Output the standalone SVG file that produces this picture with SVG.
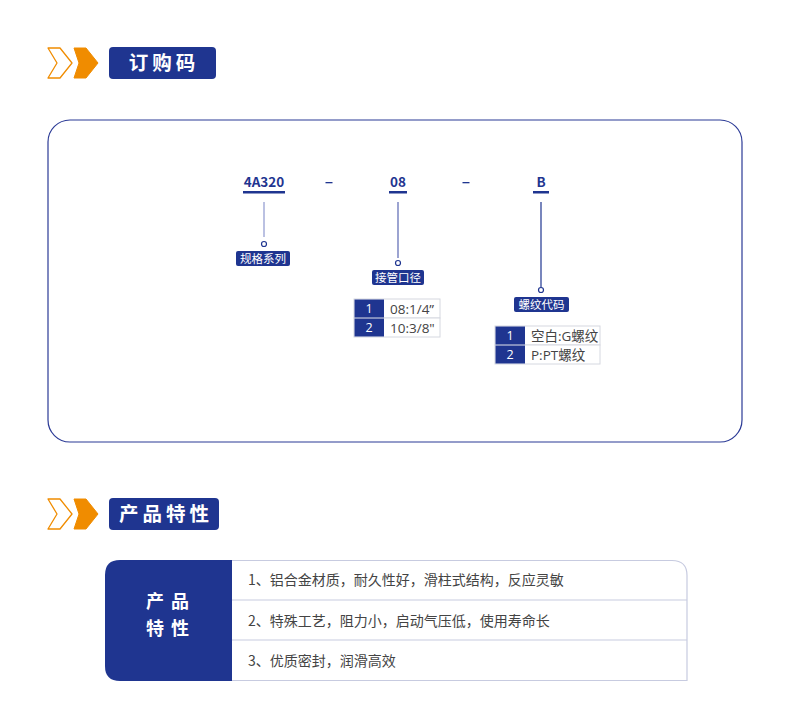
<svg xmlns="http://www.w3.org/2000/svg" width="790" height="724" viewBox="0 0 790 724">
<defs>
<style>
text{font-family:"Noto Sans CJK SC","Noto Sans",sans-serif}
.hd{fill:#fff;font-size:19.5px;font-weight:700;letter-spacing:4px}
.code{fill:#1f3590;font-size:13.5px;font-weight:700;text-anchor:middle}
.lbl{fill:#fff;font-size:11.5px;text-anchor:middle}
.badge{fill:#1f3590}
.num{fill:#1f3590}
.cell{fill:#fff;stroke:#d5d8e0;stroke-width:1}
.nt{fill:#fff;font-size:12.5px;text-anchor:middle;font-family:"Open Sans","Noto Sans CJK SC",sans-serif}
.ct{fill:#444;font-size:13.5px;font-family:"Open Sans","Noto Sans CJK SC",sans-serif}
.li{fill:#444;font-size:14px}
.dot{fill:#fff;stroke:#1f3590;stroke-width:1.2}
.fh{fill:#fff;font-size:18px;font-weight:700;letter-spacing:7px;text-anchor:middle}
</style>
</defs>
<rect width="790" height="724" fill="#fff"/>

<g id="header1">
<path d="M48,48 L60,48 L72,63 L60,78 L48,78 L57,63 Z" fill="none" stroke="#f08c00" stroke-width="1.3" stroke-linejoin="round"/>
<path d="M74,48 L86,48 L98,63 L86,78 L74,78 L79,63 Z" fill="#f08c00" stroke="#f08c00" stroke-width="1" stroke-linejoin="round"/>
<rect x="109" y="47" width="107" height="32" rx="4" class="badge"/>
<text x="164" y="70" class="hd" text-anchor="middle">订购码</text>
</g>

<g id="order-box">
<rect x="48" y="120" width="694" height="322" rx="22" fill="#fff" stroke="#2b3a96" stroke-width="1.2"/>
</g>

<g id="code-4A320">
<text x="264" y="187" class="code">4A320</text>
<rect x="243" y="191" width="42" height="2.5" fill="#1f3590"/>
</g>
<rect x="325.5" y="182" width="7" height="1.3" fill="#1f3590"/>
<g id="code-08">
<text x="398" y="187" class="code">08</text>
<rect x="389" y="191" width="18" height="2.5" fill="#1f3590"/>
</g>
<rect x="462.5" y="182" width="7" height="1.3" fill="#1f3590"/>
<g id="code-B">
<text x="541" y="187" class="code">B</text>
<rect x="533" y="191" width="16" height="2.5" fill="#1f3590"/>
</g>

<g id="connectors">
<line x1="264" y1="202" x2="264" y2="237" stroke="#8e98cf" stroke-width="1.2"/>
<line x1="398" y1="202" x2="398" y2="258" stroke="#5a67b3" stroke-width="1.2"/>
<line x1="541" y1="202" x2="541" y2="287" stroke="#1f3590" stroke-width="1.2"/>
<circle cx="264" cy="244" r="2.5" class="dot"/>
<circle cx="398" cy="263" r="2.5" class="dot"/>
<circle cx="541" cy="290" r="2.5" class="dot"/>
</g>

<g id="label-series">
<rect x="236" y="251" width="54" height="15" rx="2" class="badge"/>
<text x="263" y="262.5" class="lbl">规格系列</text>
</g>

<g id="label-port">
<rect x="372" y="270" width="52" height="15" rx="2" class="badge"/>
<text x="398" y="281.5" class="lbl">接管口径</text>
</g>

<g id="label-thread">
<rect x="514" y="297" width="55" height="15" rx="2" class="badge"/>
<text x="541.5" y="308.5" class="lbl">螺纹代码</text>
</g>

<g id="table-port">
<rect x="354" y="299" width="86" height="19" class="cell"/>
<rect x="354" y="318" width="86" height="19" class="cell"/>
<rect x="354.5" y="299.5" width="29.5" height="18" class="num"/>
<rect x="354.5" y="318.5" width="29.5" height="18" class="num"/>
<text x="369" y="313" class="nt">1</text>
<text x="369" y="332" class="nt">2</text>
<text x="390" y="313.5" class="ct">08:1/4”</text>
<text x="390" y="332.5" class="ct">10:3/8"</text>
</g>

<g id="table-thread">
<rect x="495" y="326" width="105" height="19" class="cell"/>
<rect x="495" y="345" width="105" height="19" class="cell"/>
<rect x="495.5" y="326.5" width="29.5" height="18" class="num"/>
<rect x="495.5" y="345.5" width="29.5" height="18" class="num"/>
<text x="510" y="340" class="nt">1</text>
<text x="510" y="359" class="nt">2</text>
<text x="531" y="340.5" class="ct">空白:G螺纹</text>
<text x="531" y="359.5" class="ct">P:PT螺纹</text>
</g>

<g id="header2">
<path d="M48,499 L60,499 L72,514 L60,529 L48,529 L57,514 Z" fill="none" stroke="#f08c00" stroke-width="1.3" stroke-linejoin="round"/>
<path d="M74,499 L86,499 L98,514 L86,529 L74,529 L79,514 Z" fill="#f08c00" stroke="#f08c00" stroke-width="1" stroke-linejoin="round"/>
<rect x="109" y="498" width="110" height="32" rx="4" class="badge"/>
<text x="166" y="521" class="hd" text-anchor="middle">产品特性</text>
</g>

<g id="features">
<path d="M232,560.5 L672,560.5 Q687,560.5 687,575.5 L687,680.5 L232,680.5" fill="#fff" stroke="#c7cbe0" stroke-width="1.2"/>
<line x1="232" y1="600" x2="687" y2="600" stroke="#c7cbe0" stroke-width="1.2"/>
<line x1="232" y1="640" x2="687" y2="640" stroke="#c7cbe0" stroke-width="1.2"/>
<path d="M120,560 L232,560 L232,681 L120,681 Q105,681 105,666 L105,575 Q105,560 120,560 Z" fill="#1f3590"/>
<text x="171" y="608" class="fh">产品</text>
<text x="171" y="635" class="fh">特性</text>
<text x="248" y="585" class="li">1、铝合金材质，耐久性好，滑柱式结构，反应灵敏</text>
<text x="248" y="626" class="li">2、特殊工艺，阻力小，启动气压低，使用寿命长</text>
<text x="248" y="666" class="li">3、优质密封，润滑高效</text>
</g>
</svg>
